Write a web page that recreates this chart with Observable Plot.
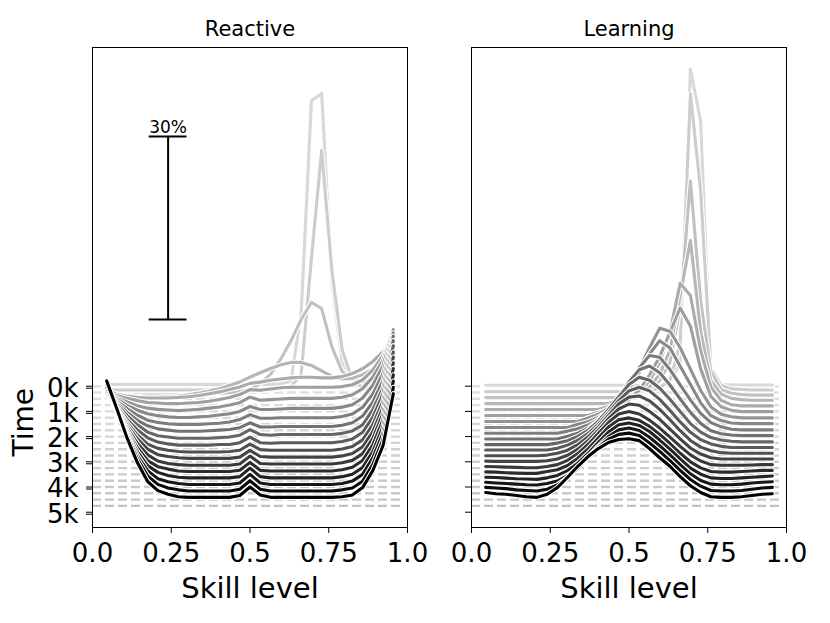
<!DOCTYPE html>
<html><head><meta charset="utf-8">
<script src="https://cdn.jsdelivr.net/npm/d3@7"></script>
<script src="https://cdn.jsdelivr.net/npm/@observablehq/plot@0.6"></script>
<style>
html,body{margin:0;padding:0;background:#fff;}
#chart{width:830px;height:623px;}
</style></head>
<body><div id="chart"></div>
<script>
const panels = ["Reactive", "Learning"];
const skillBins = [0.045,0.0775,0.11,0.1425,0.175,0.2075,0.24,0.2725,0.305,0.3375,0.37,0.4025,0.435,0.4675,0.5,0.5325,0.565,0.5975,0.63,0.6625,0.695,0.7275,0.76,0.7925,0.825,0.8575,0.89,0.9225,0.955];
const timeSteps = [0,250,500,750,1000,1250,1500,1750,2000,2250,2500,2750,3000,3250,3500,3750,4000,4250,4500,4750];
// share of agents per skill bin (%) for each time step
const reactive = [
[0.3,0.3,0.3,0.3,0.3,0.3,0.3,0.3,0.3,0.3,0.3,0.3,0.3,0.3,0.3,0.3,0.3,0.4,0.8,12,46.8,48,17,4,1,0.4,0.3,0.3,0.3],
[0.4,0.4,0.4,0.4,0.4,0.4,0.4,0.4,0.4,0.4,0.4,0.4,0.4,0.4,0.4,0.4,0.4,0.6,1,3,22,39.7,20,7,2,0.8,0.6,0.6,0.7],
[0.6,0.6,0.6,0.6,0.6,0.6,0.6,0.7,0.7,0.8,0.8,0.9,1.0,1.2,1.5,2.5,4,6.5,9.5,13,15.8,14.8,8.5,4.5,3.2,2.8,2.9,3.3,4.0],
[2.2,1.7,1.5,1.4,1.3,1.3,1.4,1.5,1.7,2.0,2.3,2.7,3.2,3.8,4.6,5.3,6.0,6.6,7.0,7.0,6.5,5.6,4.7,4.3,4.4,5.0,5.9,7.0,8.5],
[3.5,2.8,2.5,2.3,2.2,2.2,2.2,2.3,2.4,2.6,2.9,3.2,3.6,4.0,4.6,4.8,5.1,5.3,5.5,5.6,5.6,5.5,5.5,5.7,6.2,7.0,8.2,9.8,12],
[4.0,3.6,3.2,2.8,2.5,2.4,2.3,2.3,2.4,2.5,2.7,3.0,3.3,3.8,4.6,4.5,4.7,4.9,5.0,5.0,5.0,5.0,5.0,5.1,5.4,6.2,7.8,10.2,14],
[5.0,4.3,3.6,3.0,2.6,2.4,2.3,2.2,2.3,2.4,2.6,2.8,3.1,3.5,4.4,3.9,4.0,4.1,4.2,4.2,4.2,4.2,4.2,4.4,4.8,5.8,7.7,10.5,15.5],
[6.0,5.1,4.1,3.3,2.7,2.4,2.2,2.1,2.1,2.2,2.3,2.5,2.7,3.1,3.9,3.4,3.4,3.5,3.6,3.6,3.6,3.6,3.6,3.8,4.2,5.3,7.4,10.6,16.5],
[7.0,5.8,4.6,3.5,2.7,2.3,2.1,2.0,2.0,2.0,2.1,2.2,2.4,2.8,3.6,3.0,3.0,3.1,3.1,3.1,3.1,3.1,3.1,3.3,3.7,4.8,7.0,10.4,17],
[8.0,6.5,5.0,3.7,2.8,2.3,2.1,1.9,1.9,1.9,2.0,2.1,2.2,2.5,3.3,2.6,2.6,2.7,2.7,2.7,2.7,2.7,2.7,2.9,3.3,4.4,6.7,10.2,17.5],
[9.0,7.3,5.5,4.0,2.8,2.2,2.0,1.8,1.8,1.8,1.8,1.9,2.0,2.3,3.2,2.4,2.3,2.4,2.4,2.4,2.4,2.4,2.4,2.6,3.0,4.0,6.5,10.1,17.8],
[10.0,8.0,5.9,4.2,2.9,2.2,1.9,1.7,1.7,1.7,1.7,1.8,1.8,2.1,3.0,2.1,2.0,2.1,2.1,2.1,2.1,2.1,2.1,2.3,2.7,3.8,6.3,10.1,18],
[11.0,8.7,6.4,4.4,2.9,2.2,1.9,1.7,1.6,1.6,1.6,1.6,1.7,1.9,2.9,2.0,1.9,1.9,1.9,1.9,1.9,1.9,1.9,2.1,2.5,3.6,6.1,10.0,18],
[12.2,9.7,7.0,4.8,3.1,2.2,1.9,1.7,1.6,1.6,1.6,1.6,1.6,1.8,2.9,1.9,1.8,1.8,1.8,1.8,1.8,1.8,1.8,2.0,2.4,3.5,6.0,10.0,18.2],
[13.4,10.5,7.6,5.1,3.2,2.2,1.8,1.6,1.5,1.5,1.5,1.5,1.5,1.7,3.0,1.8,1.7,1.7,1.7,1.7,1.7,1.7,1.7,1.9,2.3,3.4,5.9,10.0,18.3],
[14.6,11.5,8.2,5.4,3.3,2.3,1.9,1.6,1.5,1.5,1.5,1.5,1.5,1.7,3.0,1.7,1.6,1.6,1.6,1.6,1.6,1.6,1.6,1.8,2.2,3.3,5.9,10.0,18.4],
[16.0,12.5,8.9,5.8,3.5,2.4,1.9,1.6,1.5,1.5,1.5,1.5,1.5,1.7,3.1,1.7,1.5,1.5,1.5,1.5,1.5,1.5,1.5,1.7,2.1,3.2,5.8,9.9,18.4],
[17.4,13.6,9.6,6.2,3.7,2.4,1.9,1.6,1.45,1.45,1.45,1.45,1.45,1.7,3.1,1.7,1.45,1.45,1.45,1.45,1.45,1.45,1.45,1.6,2.0,3.1,5.8,9.9,18.4],
[19.0,14.8,10.4,6.7,3.9,2.5,1.9,1.6,1.4,1.4,1.4,1.4,1.4,1.7,3.1,1.7,1.4,1.4,1.4,1.4,1.4,1.4,1.4,1.6,1.9,3.0,5.8,9.9,18.4],
[20.5,15.9,11.1,7.1,4.0,2.5,1.9,1.5,1.4,1.4,1.4,1.4,1.4,1.7,3.1,1.8,1.4,1.4,1.4,1.4,1.4,1.4,1.4,1.5,1.8,3.0,5.8,9.9,18.4]
];
const learning = [
[0.15,0.15,0.15,0.15,0.15,0.15,0.15,0.15,0.15,0.15,0.15,0.15,0.15,0.15,0.15,0.15,0.15,0.15,0.6,4,52,43.4,1.2,0.3,0.2,0.2,0.2,0.2,0.2],
[0.15,0.15,0.15,0.15,0.15,0.15,0.15,0.15,0.15,0.15,0.15,0.15,0.15,0.15,0.15,0.15,0.15,0.8,2,8,49,33,4,1.2,0.6,0.5,0.4,0.4,0.4],
[0.2,0.2,0.2,0.2,0.2,0.2,0.2,0.2,0.2,0.2,0.2,0.2,0.2,0.2,0.6,1.0,1.6,3,6,15,35.7,16,4.5,1.5,0.9,0.7,0.6,0.6,0.6],
[0.25,0.25,0.25,0.25,0.25,0.25,0.25,0.25,0.25,0.25,0.25,0.25,0.25,0.8,1.2,2,3,5,9,18,27,12,4,1.8,1.1,0.9,0.8,0.8,0.8],
[0.3,0.3,0.3,0.3,0.3,0.3,0.3,0.3,0.3,0.3,0.3,0.3,0.8,1.3,2,3.2,5,8,13,21,19,10,4,1.8,1.1,0.9,0.9,0.9,0.9],
[0.35,0.35,0.35,0.35,0.35,0.35,0.35,0.35,0.35,0.35,0.35,0.9,1.3,2,3,4.5,7,10,14,18,15,8,3.5,1.8,1.2,1.0,1.0,1.0,1.0],
[0.4,0.4,0.4,0.4,0.4,0.4,0.4,0.4,0.4,0.4,1.0,1.6,2.6,4,6,9,12.5,15.7,15.2,12.5,9,5.5,2.8,1.6,1.2,1.0,1.0,1.0,1.0],
[0.45,0.45,0.45,0.45,0.45,0.45,0.45,0.45,0.45,1.0,1.4,2.1,3.2,4.7,6.8,9.5,12.5,14.7,13.5,10.5,7.5,4.5,2.4,1.6,1.2,1.1,1.1,1.1,1.1],
[0.55,0.55,0.55,0.55,0.55,0.55,0.55,0.55,0.9,1.3,1.9,2.8,4.2,6.0,8.5,11.3,13.3,13.0,11,8.5,6,3.8,2.3,1.6,1.2,1.1,1.1,1.1,1.1],
[0.65,0.65,0.65,0.65,0.65,0.65,0.65,0.65,1.1,1.6,2.4,3.6,5.3,7.5,10,12.0,12.6,11.5,9.5,7.2,5,3.2,2.0,1.5,1.3,1.2,1.2,1.2,1.2],
[0.75,0.75,0.75,0.75,0.75,0.75,0.75,1.0,1.4,2.1,3.1,4.6,6.5,8.6,10.6,11.8,11.3,10,8.2,6.2,4.2,2.8,1.9,1.5,1.3,1.2,1.2,1.2,1.2],
[0.9,0.9,0.9,0.9,0.9,0.9,0.9,1.2,1.7,2.5,3.6,5.1,7.0,9.0,10.6,11.2,10.6,9.2,7.4,5.5,3.8,2.6,1.9,1.5,1.3,1.3,1.3,1.3,1.3],
[1.0,1.0,1.0,1.0,1.0,1.0,1.1,1.4,1.9,2.8,4.1,5.7,7.6,9.5,10.6,10.8,10.0,8.6,6.9,5.1,3.5,2.4,1.8,1.5,1.4,1.4,1.4,1.4,1.4],
[1.15,1.1,1.1,1.1,1.1,1.1,1.2,1.5,2.1,3.1,4.5,6.2,8.1,9.7,10.5,10.3,9.3,8.0,6.4,4.8,3.3,2.3,1.7,1.5,1.5,1.5,1.5,1.5,1.5],
[1.3,1.25,1.2,1.15,1.1,1.1,1.3,1.6,2.3,3.4,4.9,6.7,8.5,9.9,10.3,9.9,8.9,7.6,6.1,4.6,3.2,2.2,1.6,1.5,1.5,1.5,1.55,1.6,1.6],
[1.45,1.4,1.3,1.25,1.2,1.2,1.5,1.8,2.5,3.7,5.2,7.0,8.8,10.0,10.3,9.9,8.9,7.6,6.1,4.5,3.1,2.1,1.5,1.4,1.4,1.5,1.6,1.7,1.7],
[1.6,1.55,1.45,1.35,1.3,1.25,1.5,1.9,2.7,3.9,5.5,7.3,9.0,10.2,10.5,10.1,9.1,7.7,6.2,4.6,3.1,2.1,1.5,1.4,1.4,1.5,1.6,1.7,1.8],
[1.8,1.7,1.6,1.5,1.4,1.35,1.6,2.0,2.9,4.2,5.9,7.7,9.3,10.4,10.7,10.3,9.2,7.8,6.3,4.7,3.2,2.1,1.5,1.4,1.4,1.5,1.7,1.8,1.9],
[2.0,1.9,1.8,1.6,1.5,1.4,1.7,2.4,3.6,5.2,7.0,8.6,9.9,10.7,10.9,10.5,9.3,7.9,6.4,4.8,3.3,2.2,1.5,1.4,1.4,1.5,1.7,1.9,2.0],
[2.2,2.0,1.9,1.7,1.5,1.4,1.9,3.0,4.7,6.5,8.1,9.4,10.4,10.9,11.0,10.7,9.4,7.9,6.5,4.8,3.3,2.2,1.5,1.4,1.4,1.5,1.7,1.9,2.0]
];
const xTicks = [0, 0.25, 0.5, 0.75, 1];
const xTickLabels = ["0.0", "0.25", "0.5", "0.75", "1.0"];
const yTicks = [0, 1000, 2000, 3000, 4000, 5000];
const yTickLabels = ["0k", "1k", "2k", "3k", "4k", "5k"];
const scaleBarPct = 30;
const scaleBarLabel = "30%";

// layout / styling constants
const pctToTime = 242;        // ridge height: time units per percentage point
const barX = 0.24, barHalf = 0.06, barBase = -2650;
const timeLabelY = 2790;
const n = timeSteps.length;

const points = [];
panels.forEach((p, pi) => {
  const src = pi === 0 ? reactive : learning;
  src.forEach((row, i) => row.forEach((v, k) => points.push({panel: p, row: i, t: timeSteps[i], x: skillBins[k], v})));
});
const baselines = panels.flatMap(p => timeSteps.map((t, i) => ({panel: p, row: i, t})));
const grey = i => { const g = Math.round(216 * (1 - i / (n - 1))); return `rgb(${g},${g},${g})`; };
const dashGrey = i => { const g = Math.round(226 - 30 * i / (n - 1)); return `rgb(${g},${g},${g})`; };
const ridgeY = d => d.t - d.v * pctToTime;

const marks = [];
marks.push(Plot.ruleY(baselines, {fx: "panel", y: "t", x1: 0, x2: 0.985, stroke: d => dashGrey(d.row), strokeWidth: 2.4, strokeDasharray: "9,4"}));
for (let i = 0; i < n; i++) {
  const data = points.filter(d => d.row === i);
  marks.push(Plot.line(data, {fx: "panel", x: "x", y: ridgeY, stroke: "white", strokeWidth: 5.2}));
  marks.push(Plot.line(data, {fx: "panel", x: "x", y: ridgeY, stroke: grey(i), strokeWidth: 3.1}));
}
// scale bar (Reactive panel only)
const barTop = barBase - scaleBarPct * pctToTime;
marks.push(Plot.ruleX([{panel: "Reactive"}], {fx: "panel", x: barX, y1: barBase, y2: barTop, stroke: "black", strokeWidth: 2}));
marks.push(Plot.ruleY([{panel: "Reactive", y: barBase}, {panel: "Reactive", y: barTop}], {fx: "panel", y: "y", x1: barX - barHalf, x2: barX + barHalf, stroke: "black", strokeWidth: 2}));
marks.push(Plot.text([{panel: "Reactive"}], {fx: "panel", x: barX, y: barTop, text: () => scaleBarLabel, lineAnchor: "bottom", dy: -3, fontSize: 17, fill: "black"}));

marks.push(Plot.frame({stroke: "black", strokeWidth: 1}));
marks.push(Plot.axisX({ticks: xTicks, tickFormat: d => xTickLabels[xTicks.indexOf(d)], tickSize: 6, tickPadding: 10, fontSize: 26, label: null}));
marks.push(Plot.axisY({ticks: yTicks, tickFormat: d => yTickLabels[yTicks.indexOf(d)], tickSize: 6, tickPadding: 8, fontSize: 26, dy: 2, label: null}));
marks.push(Plot.axisY({ticks: yTicks, tickFormat: () => "", tickSize: 6, label: null, facetAnchor: null}));
marks.push(Plot.text(panels, {fx: d => d, text: d => d, frameAnchor: "top", dy: -12, lineAnchor: "bottom", fontSize: 21, fill: "black"}));
marks.push(Plot.text([0], {frameAnchor: "bottom", text: () => "Skill level", dy: 70, lineAnchor: "bottom", fontSize: 29, fill: "black"}));
marks.push(Plot.text(["Reactive"], {fx: d => d, frameAnchor: "left", y: timeLabelY, text: () => "Time", rotate: -90, dx: -68, lineAnchor: "middle", fontSize: 28, fill: "black"}));

const chart = Plot.plot({
  width: 830, height: 623,
  marginLeft: 91, marginRight: 43, marginTop: 47, marginBottom: 96,
  style: {fontFamily: "DejaVu Sans", background: "white", color: "black"},
  fx: {domain: panels, paddingInner: 0.1684, paddingOuter: 0, axis: null, label: null},
  x: {domain: [0, 1]},
  y: {domain: [5607, -13440]},
  color: {type: "identity"},
  marks
});
document.getElementById("chart").appendChild(chart);
</script>
</body></html>
